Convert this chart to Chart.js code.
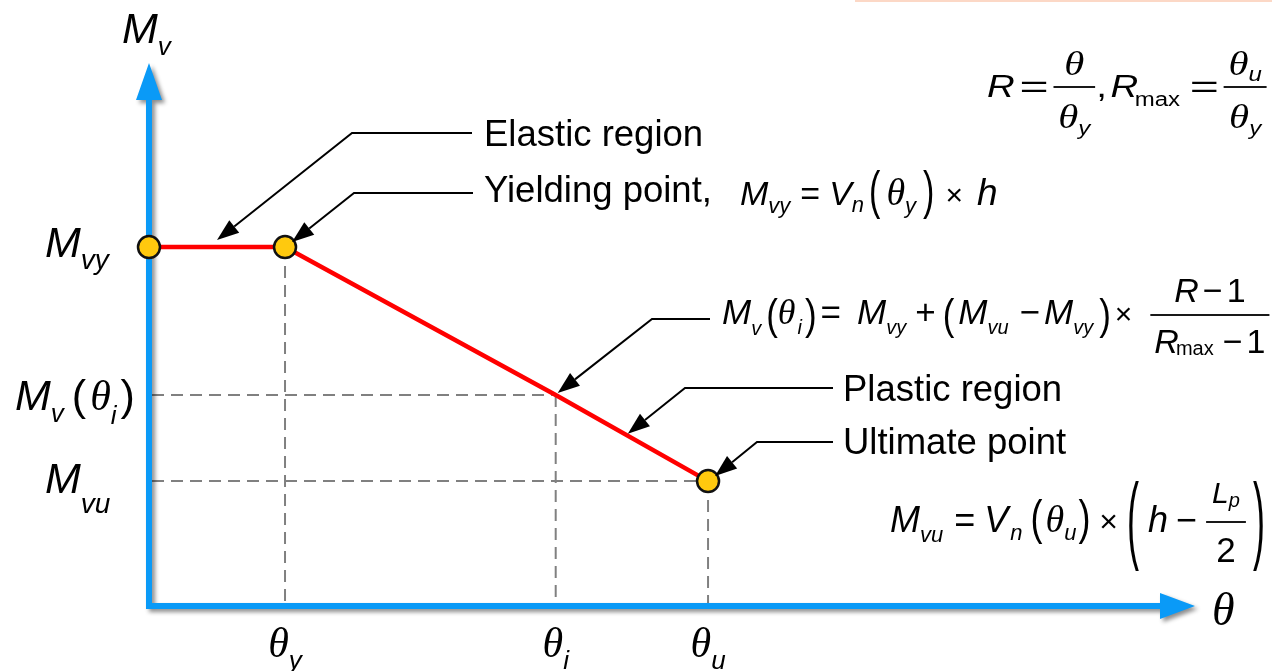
<!DOCTYPE html>
<html><head><meta charset="utf-8">
<script src="https://cdn.jsdelivr.net/npm/chart.js@4.4.1/dist/chart.umd.min.js"></script>
<style>html,body{margin:0;padding:0;background:#fff;overflow:hidden}</style>
</head><body>
<canvas id="c" width="1272" height="671"></canvas>
<script>
// ---- data (schematic: θ in units of θy, Mv in units of Mvy) ----
const pointNames = ['origin', 'yield', 'intermediate', 'ultimate'];
const rotation   = [0, 1.0, 2.99, 4.11];
const moment     = [1.0, 1.0, 0.588, 0.348];
const markerShown = [true, true, false, true];
const xTickSubs  = ['y', 'i', 'u'];          // θy, θi, θu at rotation[1..3]
const axisMax    = { x: 7.69, y: 1.513 };

const SANS = '"Liberation Sans", Arial, sans-serif';
const SERIF = '"Liberation Serif", "Times New Roman", serif';
const BLUE = '#0A9AF7';

// ---- rich-text helpers ----
const T = (s, z, o = {}) => Object.assign({ s, z, it: true, fam: SANS }, o);
const N = (s, z, o = {}) => T(s, z, Object.assign({ it: false }, o));
const TH = (z, o = {}) => T('\u03B8', z, Object.assign({ fam: SERIF }, o));
const P = (s, z, o = {}) => N(s, z, Object.assign({ paren: true }, o));
const fontOf = t => (t.it ? 'italic ' : '') + t.z + 'px ' + t.fam;

function runW(ctx, run) { let w = 0; for (const t of run) w += (t.g || 0) + tokW(ctx, t); return w; }
function tokW(ctx, t) {
  if (t.frac) return Math.max(runW(ctx, t.frac[0]), runW(ctx, t.frac[1])) + 2 * (t.pad ?? 3);
  ctx.font = fontOf(t); return ctx.measureText(t.s).width * (t.sx || 1);
}
function drawRun(ctx, run, x, y) {
  for (const t of run) {
    x += (t.g || 0);
    const w = tokW(ctx, t);
    if (t.frac) {
      const a = runW(ctx, t.frac[0]), b = runW(ctx, t.frac[1]);
      const by = y + t.bar;
      ctx.fillRect(x, by - 0.9, w, 1.8);
      drawRun(ctx, t.frac[0], x + (w - a) / 2, by + t.nb);
      drawRun(ctx, t.frac[1], x + (w - b) / 2, by + t.db);
    } else {
      ctx.save();
      ctx.font = fontOf(t);
      let by = y + (t.dy || 0);
      const sy = t.sy || 1;
      if (t.paren) by = y + (t.cy || 0) + 0.26 * t.z * sy;
      ctx.translate(x, by); ctx.scale(t.sx || 1, sy);
      ctx.textBaseline = 'alphabetic'; ctx.textAlign = 'left';
      ctx.fillText(t.s, 0, 0);
      ctx.restore();
    }
    x += w;
  }
  return x;
}
function drawRunStretched(ctx, run, x, y, sx) {
  ctx.save(); ctx.translate(x, 0); ctx.scale(sx, 1); drawRun(ctx, run, 0, y); ctx.restore();
}

// ---- formulas & labels ----
const formulaTop = [
  T('R', 32), N('=', 32, { g: 4, sx: 1.3 }),
  { frac: [[TH(34)], [TH(34), T('y', 20, { dy: 7 })]], g: 4, pad: 4, bar: -10, nb: -12, db: 41 },
  N(',', 32, { g: 1 }), T('R', 32, { g: 3 }), N('max', 20, { dy: 9, g: -3 }),
  N('=', 32, { g: 8, sx: 1.3 }),
  { frac: [[TH(34), T('u', 20, { dy: 6 })], [TH(34), T('y', 20, { dy: 7 })]], g: 4, pad: 4, bar: -10, nb: -12, db: 41 }
];
const formulaYield = [
  T('M', 34), T('vy', 22, { dy: 8 }), N('=', 34, { g: 10 }), T('V', 34, { g: 9 }), T('n', 22, { dy: 7 }),
  P('(', 34, { g: 5, sy: 1.5, cy: -10 }), TH(38, { g: 6 }), T('y', 22, { dy: 8 }), P(')', 34, { g: 7, sy: 1.5, cy: -10 }),
  N('\u00D7', 30, { g: 11 }), T('h', 37, { g: 14 })
];
const formulaMid = [
  T('M', 35), T('v', 20, { dy: 11 }), P('(', 35, { g: 5, sy: 1.2, cy: -6 }), TH(36), T('i', 20, { dy: 10, g: 2 }),
  P(')', 35, { g: 3, sy: 1.2, cy: -6 }), N('=', 35, { g: 4 }), T('M', 35, { g: 16 }), T('vy', 20, { dy: 10 }),
  N('+', 35, { g: 9 }), P('(', 35, { g: 7, sy: 1.2, cy: -6 }), T('M', 35, { g: 4 }), T('vu', 20, { dy: 10 }),
  N('\u2212', 35, { g: 11 }), T('M', 35, { g: 4 }), T('vy', 20, { dy: 10 }), P(')', 35, { g: 6, sy: 1.2, cy: -6 }),
  N('\u00D7', 30, { g: 4 }),
  { frac: [[T('R', 34), N('\u2212', 34, { g: 4 }), N('1', 34, { g: 4 })],
           [T('R', 34), N('max', 20, { dy: 2, g: -3 }), N('\u2212', 34, { g: 9 }), N('1', 34, { g: 4 })]],
    g: 18, pad: 4, bar: -9, nb: -13, db: 38 }
];
const formulaUlt = [
  T('M', 36), T('vu', 22, { dy: 10 }), N('=', 36, { g: 11 }), T('V', 36, { g: 9 }), T('n', 22, { dy: 8, g: 2 }),
  P('(', 36, { g: 8, sy: 1.35, cy: -11 }), TH(38, { g: 3 }), T('u', 22, { dy: 8 }), P(')', 36, { g: 2, sy: 1.35, cy: -11 }),
  N('\u00D7', 32, { g: 9 }), P('(', 36, { g: 9, sy: 2.7, cy: -6 }), T('h', 36, { g: 9 }), N('\u2212', 36, { g: 8 }),
  { frac: [[T('L', 30), T('p', 20, { dy: 4 })], [N('2', 35)]], g: 9, pad: 6, bar: -10, nb: -19, db: 40 },
  P(')', 36, { g: 7, sy: 2.7, cy: -6 })
];
const yLabels = [
  { run: [T('M', 43), T('vy', 28, { dy: 12 })], x: 45, y: 257 },
  { run: [T('M', 43), T('v', 26, { dy: 12 }), N('(', 43, { g: 8 }), TH(42, { g: 4 }), T('i', 26, { dy: 14 }), N(')', 43, { g: 4 })], x: 15, y: 410 },
  { run: [T('M', 43), T('vu', 28, { dy: 20 })], x: 45, y: 493 }
];

const notes = [
  { text: 'Elastic region', at: 0.5, ox: 0, oy: -7, corner: [352, 133], end: [472, 133], tx: 484, ty: 146 },
  { text: 'Yielding point,', at: 1.0, ox: 7, oy: -5, corner: [354, 193], end: [473, 193], tx: 484, ty: 202 },
  { text: null, at: 2.99, ox: 2, oy: -2, corner: [652, 319], end: [710, 319] },
  { text: 'Plastic region', at: 3.52, ox: 0, oy: -2, corner: [685, 388], end: [833, 388], tx: 843, ty: 401 },
  { text: 'Ultimate point', at: 4.11, ox: 7, oy: -5, corner: [757, 442], end: [833, 442], tx: 843, ty: 454 }
];

function momentAt(th) {
  for (let i = 0; i < rotation.length - 1; i++) {
    if (th >= rotation[i] && th <= rotation[i + 1]) {
      const f = (th - rotation[i]) / (rotation[i + 1] - rotation[i] || 1);
      return moment[i] + f * (moment[i + 1] - moment[i]);
    }
  }
  return moment[moment.length - 1];
}

function leader(ctx, a, b, tip) {
  const ang = Math.atan2(tip.y - b.y, tip.x - b.x);
  const L = 22, W = 8;
  const bx = tip.x - L * Math.cos(ang), by = tip.y - L * Math.sin(ang);
  ctx.strokeStyle = '#000'; ctx.fillStyle = '#000'; ctx.lineWidth = 2; ctx.lineJoin = 'miter';
  ctx.beginPath(); ctx.moveTo(a.x, a.y); ctx.lineTo(b.x, b.y); ctx.lineTo(bx, by); ctx.stroke();
  ctx.beginPath(); ctx.moveTo(tip.x, tip.y);
  ctx.lineTo(bx + W * Math.sin(ang), by - W * Math.cos(ang));
  ctx.lineTo(bx - W * Math.sin(ang), by + W * Math.cos(ang));
  ctx.closePath(); ctx.fill();
}

const diagram = {
  id: 'diagram',
  beforeDatasetsDraw(chart) {
    const ctx = chart.ctx, xs = chart.scales.x, ys = chart.scales.y;
    ctx.save();
    ctx.fillStyle = '#FCD8C6'; ctx.fillRect(855, 0, 417, 2);
    ctx.strokeStyle = '#808080'; ctx.lineWidth = 2; ctx.setLineDash([12, 7]);
    const x0 = xs.getPixelForValue(0), y0 = ys.getPixelForValue(0);
    for (let i = 1; i < rotation.length; i++) {
      const px = xs.getPixelForValue(rotation[i]), py = ys.getPixelForValue(moment[i]);
      ctx.beginPath(); ctx.moveTo(px, py); ctx.lineTo(px, y0 - 3); ctx.stroke();
      if (i >= 2) { ctx.beginPath(); ctx.moveTo(x0 + 3, py); ctx.lineTo(px, py); ctx.stroke(); }
    }
    ctx.setLineDash([]);
    const yt = ys.getPixelForValue(axisMax.y), xt = xs.getPixelForValue(axisMax.x);
    ctx.shadowColor = 'rgba(0,0,0,0.45)'; ctx.shadowBlur = 4; ctx.shadowOffsetX = 3; ctx.shadowOffsetY = 3;
    ctx.fillStyle = BLUE;
    ctx.beginPath();
    ctx.moveTo(x0 - 3, yt + 37); ctx.lineTo(x0 - 3, y0 + 3); ctx.lineTo(xt - 35, y0 + 3);
    ctx.lineTo(xt - 35, y0 + 13); ctx.lineTo(xt, y0); ctx.lineTo(xt - 35, y0 - 13);
    ctx.lineTo(xt - 35, y0 - 3); ctx.lineTo(x0 + 3, y0 - 3); ctx.lineTo(x0 + 3, yt + 37);
    ctx.lineTo(x0 + 13, yt + 37); ctx.lineTo(x0, yt); ctx.lineTo(x0 - 13, yt + 37);
    ctx.closePath(); ctx.fill();
    ctx.restore();
  },
  afterDatasetsDraw(chart) {
    const ctx = chart.ctx, xs = chart.scales.x, ys = chart.scales.y;
    ctx.save();
    ctx.fillStyle = '#000';
    for (const n of notes) {
      const tip = { x: xs.getPixelForValue(n.at) + n.ox, y: ys.getPixelForValue(momentAt(n.at)) + n.oy };
      leader(ctx, { x: n.end[0], y: n.end[1] }, { x: n.corner[0], y: n.corner[1] }, tip);
      if (n.text) { ctx.fillStyle = '#000'; ctx.font = '36.5px ' + SANS; ctx.fillText(n.text, n.tx, n.ty); }
    }
    ctx.fillStyle = '#000';
    drawRunStretched(ctx, formulaTop, 987, 97, 1.2);
    drawRun(ctx, formulaYield, 740, 205);
    drawRun(ctx, formulaMid, 722, 324);
    drawRun(ctx, formulaUlt, 890, 532);
    drawRun(ctx, [T('M', 43), T('v', 26, { dy: 12 })], 122, 43);
    drawRun(ctx, [TH(46)], 1212, 625);
    for (const l of yLabels) drawRun(ctx, l.run, l.x, l.y);
    for (let i = 0; i < xTickSubs.length; i++) {
      const run = [TH(42), T(xTickSubs[i], 26, { dy: 12 })];
      const px = xs.getPixelForValue(rotation[i + 1]);
      drawRun(ctx, run, px - runW(ctx, run) / 2, 657);
    }
    ctx.restore();
  }
};

new Chart(document.getElementById('c'), {
  type: 'line',
  data: {
    datasets: [{
      label: 'Mv–θ',
      data: rotation.map((r, i) => ({ x: r, y: moment[i] })),
      borderColor: '#FF0000', borderWidth: 4.5, tension: 0, fill: false, clip: false,
      pointRadius: markerShown.map(s => s ? 11 : 0),
      pointBackgroundColor: '#FFC90E', pointBorderColor: '#111', pointBorderWidth: 2.5
    }]
  },
  options: {
    responsive: false, animation: false, devicePixelRatio: 1,
    layout: { padding: { left: 149, right: 77, top: 63, bottom: 65 } },
    plugins: { legend: { display: false }, tooltip: { enabled: false } },
    scales: {
      x: { type: 'linear', min: 0, max: axisMax.x, display: false },
      y: { type: 'linear', min: 0, max: axisMax.y, display: false }
    }
  },
  plugins: [diagram]
});
</script>
</body></html>
